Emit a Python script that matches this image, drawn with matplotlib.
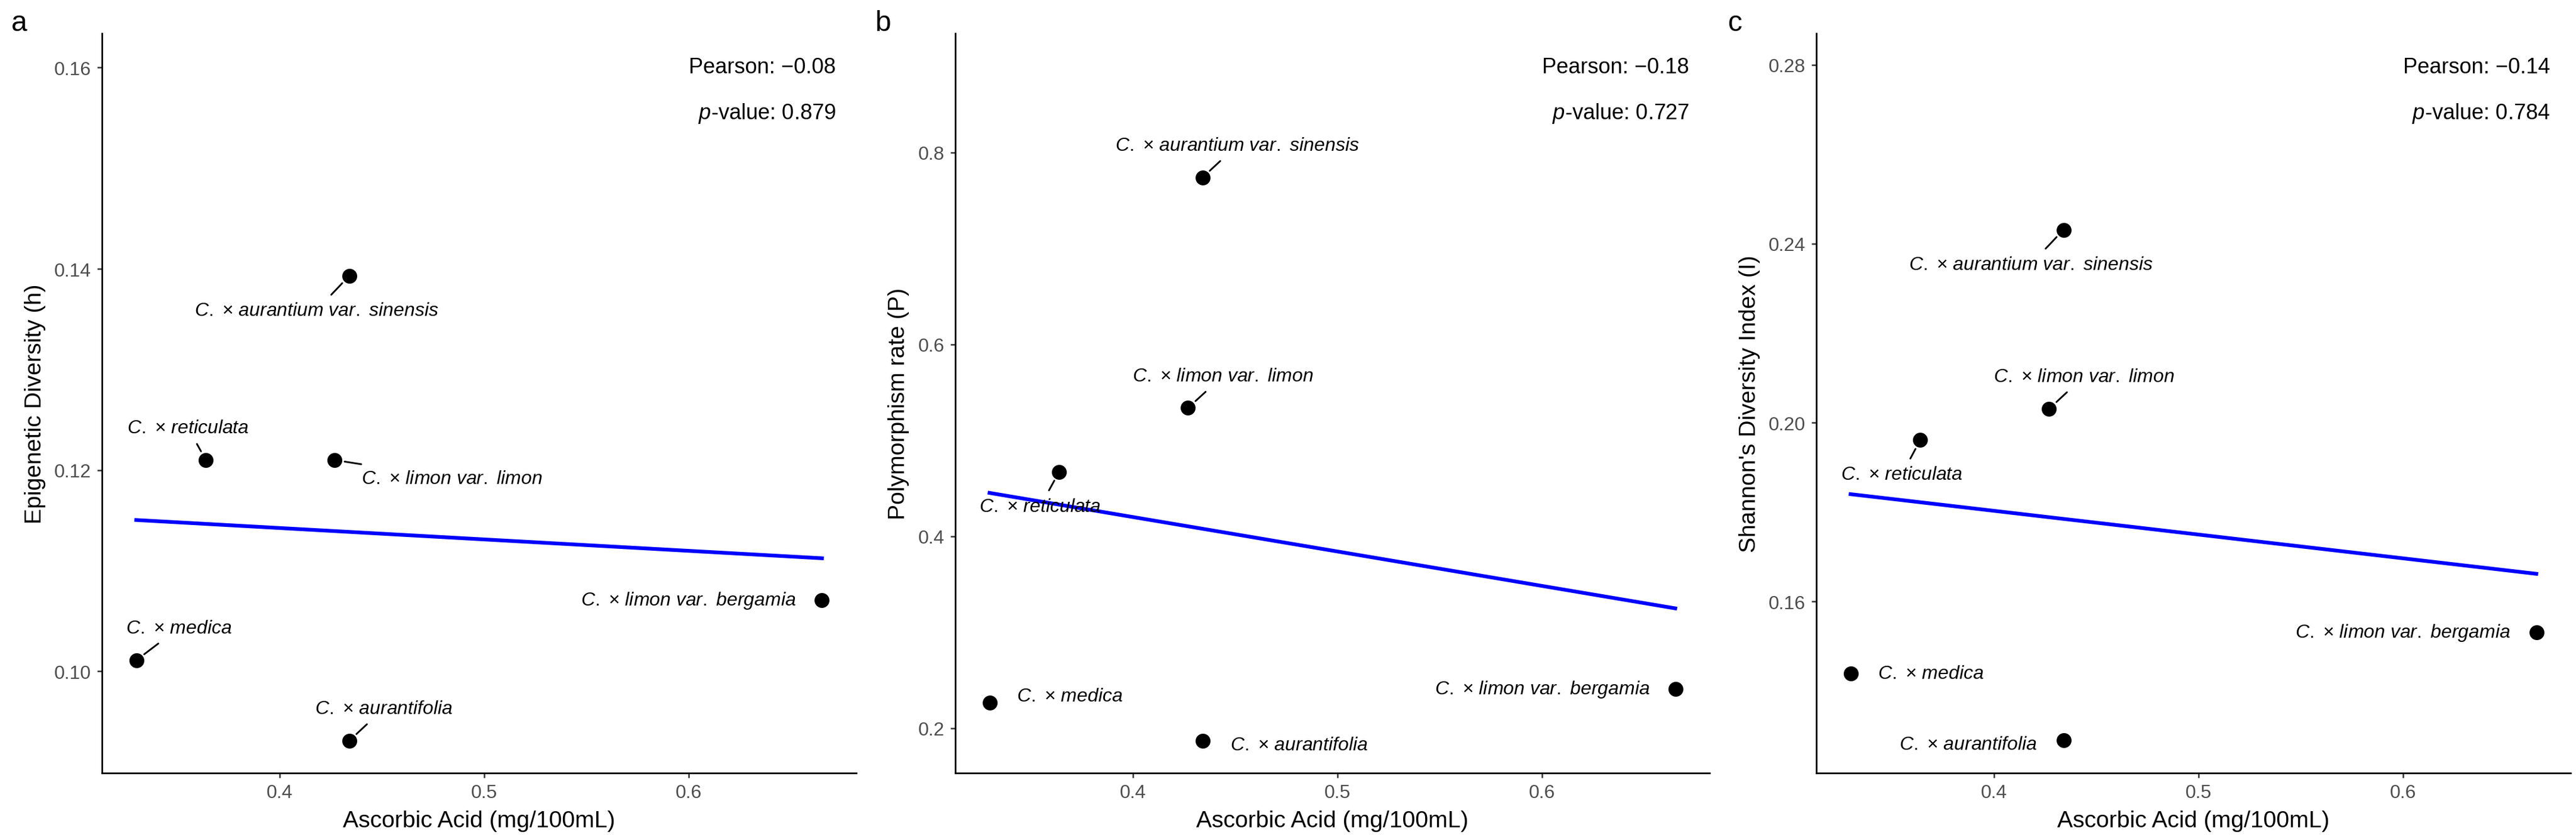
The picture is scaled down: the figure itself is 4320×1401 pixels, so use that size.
import numpy as np
import matplotlib.pyplot as plt

plt.rcParams['font.family'] = ['Liberation Sans', 'DejaVu Sans']
plt.rcParams['mathtext.fontset'] = 'custom'
plt.rcParams['mathtext.rm'] = 'Liberation Sans'
plt.rcParams['mathtext.it'] = 'Liberation Sans:italic'

# data
species = ["medica", "reticulata", "limon var. limon",
           "aurantium var. sinensis", "aurantifolia", "limon var. bergamia"]
ascorbic = [0.330, 0.364, 0.427, 0.434, 0.434, 0.665]
diversity_h = [0.1011, 0.1210, 0.1210, 0.1393, 0.0931, 0.1071]
polymorphism_p = [0.2267, 0.4671, 0.5339, 0.7738, 0.1871, 0.2406]
shannon_i = [0.1439, 0.1961, 0.2031, 0.2431, 0.1290, 0.1531]

y_titles = ["Epigenetic Diversity (h)", "Polymorphism rate (P)", "Shannon's Diversity Index (I)"]
pearson = ["\u22120.08", "\u22120.18", "\u22120.14"]
pvalues = ["0.879", "0.727", "0.784"]
tags = ["a", "b", "c"]
y_ticks = [[0.10, 0.12, 0.14, 0.16], [0.2, 0.4, 0.6, 0.8], [0.16, 0.20, 0.24, 0.28]]
y_fmt = ["{:.2f}", "{:.1f}", "{:.2f}"]
y_lims = [(0.0899, 0.1634), (0.1533, 0.9241), (0.1217, 0.2870)]
x_ticks = [0.4, 0.5, 0.6]

# label offsets from the points, in pixels (dx right, dy down) and segment flags
offsets = [
    [(71, -54), (-30, -54), (196, 31), (-55, 58), (58, -54), (-224, 0)],
    [(134, -11), (-32, 58), (58, -53), (58, -54), (162, 7), (-223, 0)],
    [(134, 0), (-31, 58), (58, -54), (-55, 58), (-160, 7), (-224, 0)],
]
segments = [
    [True, True, True, True, True, False],
    [False, True, True, True, False, False],
    [False, True, True, True, False, False],
]

W, H, DPI = 4320, 1402, 300
PX = 72 / DPI
fig = plt.figure(figsize=(W / DPI, H / DPI), dpi=DPI)

lefts = [171, 1602, 3046]
tag_x = [19, 1468, 2898]
top, bottom, width = 57, 1298, 1265


def label_text(name):
    return r"$\mathit{C.}$ × $\mathit{" + name.replace(" ", r"\ ") + "}$"


x = np.array(ascorbic)
xr = x.max() - x.min()
for i, yvals in enumerate([diversity_h, polymorphism_p, shannon_i]):
    y = np.array(yvals)
    ax = fig.add_axes([lefts[i] / W, (H - bottom) / H, width / W, (bottom - top) / H])

    # linear fit
    k, b = np.polyfit(x, y, 1)
    xs = np.array([x.min(), x.max()])
    ax.plot(xs, k * xs + b, color="#0000FF", lw=1.5, zorder=2)

    ax.scatter(x, y, s=36, color="black", zorder=3, linewidths=0)

    for j, name in enumerate(species):
        dx, dy = offsets[i][j]
        arrow = None
        if segments[i][j]:
            arrow = dict(arrowstyle="-", color="black", lw=0.7, shrinkA=1, shrinkB=4)
        ax.annotate(label_text(name), xy=(x[j], y[j]), xytext=(dx * PX, -dy * PX),
                    textcoords="offset points", ha="center", va="center",
                    fontsize=7.7, arrowprops=arrow, zorder=4)

    ax.annotate("Pearson: " + pearson[i], xy=(1, 1), xycoords="axes fraction",
                xytext=(-34 * PX, -66 * PX), textcoords="offset points",
                ha="right", va="baseline", fontsize=8.7)
    ax.annotate(r"$p$-value: " + pvalues[i], xy=(1, 1), xycoords="axes fraction",
                xytext=(-34 * PX, -143 * PX), textcoords="offset points",
                ha="right", va="baseline", fontsize=8.7)

    ax.set_xlim(x.min() - 0.05 * xr, x.max() + 0.05 * xr)
    ax.set_ylim(*y_lims[i])
    ax.set_xticks(x_ticks)
    ax.set_xticklabels([f"{t:.1f}" for t in x_ticks])
    ax.set_yticks(y_ticks[i])
    ax.set_yticklabels([y_fmt[i].format(t) for t in y_ticks[i]])

    for side in ["top", "right"]:
        ax.spines[side].set_visible(False)
    for side in ["left", "bottom"]:
        ax.spines[side].set_linewidth(0.65)
        ax.spines[side].set_color("black")
    ax.tick_params(length=8 * PX, width=0.6, color="#333333", labelcolor="#4D4D4D",
                   labelsize=7.7, pad=2.4)

    ax.set_xlabel("Ascorbic Acid (mg/100mL)", fontsize=9.4, labelpad=3.4)
    ax.set_ylabel(y_titles[i], fontsize=9.4, labelpad=3.4)

    fig.text(tag_x[i] / W, 1 - 52 / H, tags[i], fontsize=11.5, ha="left", va="baseline")

fig.savefig("out.png", dpi=DPI, facecolor="white")
